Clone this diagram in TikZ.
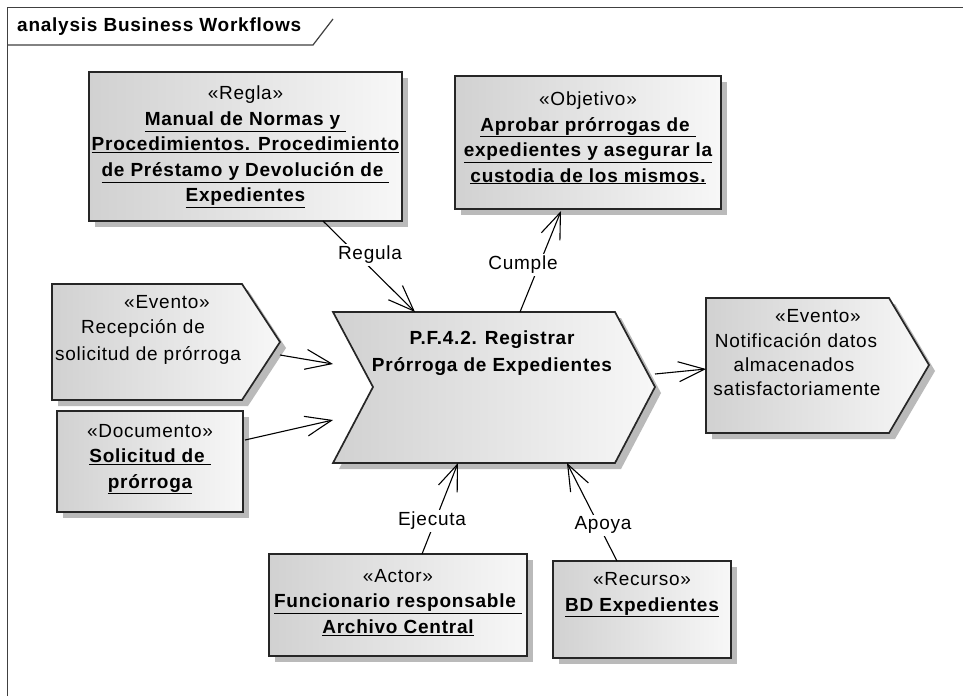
\documentclass[tikz,border=0pt]{standalone}
\usepackage{fontspec}
\setmainfont{Liberation Sans}[LetterSpace=4]
\usetikzlibrary{arrows.meta}
\begin{document}
\begin{tikzpicture}[x=1pt,y=-1pt,
  shadowc/.style={fill=black!27, draw=none},
  shapebox/.style={draw=black!85, line width=1.7pt, left color=black!18, right color=black!3},
  txt/.style={font=\fontsize{19}{25.5}\selectfont, inner sep=0pt, align=center},
  btxt/.style={txt, font=\fontsize{19}{25.5}\selectfont\bfseries},
  conn/.style={draw=black, line width=1.1pt},
  arr/.style={conn, -{Straight Barb[length=26pt,width=20pt,line width=1.1pt]}},
  lbl/.style={fill=white, inner sep=2pt, font=\fontsize{19}{22}\selectfont}
]
\useasboundingbox[fill=white] (0,0) rectangle (963,696);
% frame
\draw[black!75, line width=1.4pt] (7.5,696) -- (7.5,7.5) -- (963,7.5);
\draw[black!75, line width=1.2pt] (7.5,45) -- (313,45) -- (333,19);
\node[anchor=west, inner sep=0pt, font=\fontsize{19}{22}\selectfont\bfseries] (title) at (17,27) {analysis Business Workflows};

% shadows
\fill[shadowc] (95,78) rectangle (408,227);
\fill[shadowc] (461,82) rectangle (727,215);
\fill[shadowc] (63,417) rectangle (249,518);
\fill[shadowc] (275,560) rectangle (533,662);
\fill[shadowc] (559,567) rectangle (737,664);
\begin{scope}[shift={(6,6)}]
\fill[shadowc] (52,284) -- (242,284) -- (280,342) -- (242,400) -- (52,400) -- cycle;
\fill[shadowc] (706,298) -- (889,298) -- (929,365) -- (889,433) -- (706,433) -- cycle;
\fill[shadowc] (333,312) -- (615,312) -- (655,387) -- (615,463) -- (333,463) -- (373,387) -- cycle;
\end{scope}

% boxes
\node[shapebox, minimum width=313pt, minimum height=149pt] (regla) at (245.5,146.5) {};
\node[shapebox, minimum width=266pt, minimum height=133pt] (objetivo) at (588,142.5) {};
\node[shapebox, minimum width=186pt, minimum height=101pt] (documento) at (150,461.5) {};
\node[shapebox, minimum width=258pt, minimum height=102pt] (actor) at (398,605) {};
\node[shapebox, minimum width=178pt, minimum height=97pt] (recurso) at (642,609.5) {};
\path[shapebox] (52,284) -- (242,284) -- (280,342) -- (242,400) -- (52,400) -- cycle;
\path[shapebox] (706,298) -- (889,298) -- (929,365) -- (889,433) -- (706,433) -- cycle;
\path[shapebox] (333,312) -- (615,312) -- (655,387) -- (615,463) -- (333,463) -- (373,387) -- cycle;

% texts
\node[btxt] (reglaT) at (245.5,147) {\mdseries«Regla»\\ \underline{Manual de Normas y\ }\\ \underline{Procedimientos. Procedimiento}\\ \underline{de Préstamo y Devolución de\ }\\ \underline{Expedientes}};
\node[btxt] (objT) at (588,138) {\mdseries«Objetivo»\\ \underline{Aprobar prórrogas de\ }\\ \underline{expedientes y asegurar la}\\ \underline{custodia de los mismos.}};
\node[btxt] (docT) at (150,459) {\mdseries«Documento»\\ \underline{Solicitud de\ }\\ \underline{prórroga}};
\node[btxt] (actT) at (398,602.5) {\mdseries«Actor»\\ \underline{Funcionario responsable\ }\\ \underline{Archivo Central}};
\node[btxt] (recT) at (642,595) {\mdseries«Recurso»\\ \underline{BD Expedientes}};
\node[txt] (evl1) at (167,302) {«Evento»};
\node[txt] (evl2) at (143,328) {Recepción de};
\node[txt] (evl3) at (148,355) {solicitud de prórroga};
\node[txt] (evr1) at (818,316) {«Evento»};
\node[txt] (evr2) at (796,341) {Notificación datos};
\node[txt] (evr3) at (794,365) {almacenados};
\node[txt] (evr4) at (797,389) {satisfactoriamente};
\node[btxt, font=\fontsize{19}{27}\selectfont\bfseries] (procT) at (492,353.5) {P.F.4.2. Registrar\\ Prórroga de Expedientes};

% connectors
\coordinate (regS) at (323,221);
\coordinate (procRg) at (415,312);
\coordinate (procCu) at (520,312);
\coordinate (objS) at (561,211);
\coordinate (evlO) at (280,355);
\coordinate (procEv) at (333,364);
\coordinate (docO) at (245,440);
\coordinate (procDo) at (333,420);
\coordinate (procO) at (655,374);
\coordinate (evrI) at (706,369);
\coordinate (actN) at (422,554);
\coordinate (procEj) at (458,463);
\coordinate (recN) at (617,561);
\coordinate (procAp) at (567,463);

\draw[arr] (regS) -- (procRg);
\node[lbl] (lregula) at (370,255) {Regula};
\draw[arr] (procCu) -- (objS);
\node[lbl] (lcumple) at (523,265) {Cumple};
\draw[arr] (evlO) -- (procEv);
\draw[arr] (docO) -- (procDo);
\draw[arr] (procO) -- (evrI);
\draw[arr] (actN) -- (procEj);
\node[lbl] (lejecuta) at (432,521) {Ejecuta};
\draw[arr] (recN) -- (procAp);
\node[lbl] (lapoya) at (603,525) {Apoya};
\end{tikzpicture}
\end{document}
